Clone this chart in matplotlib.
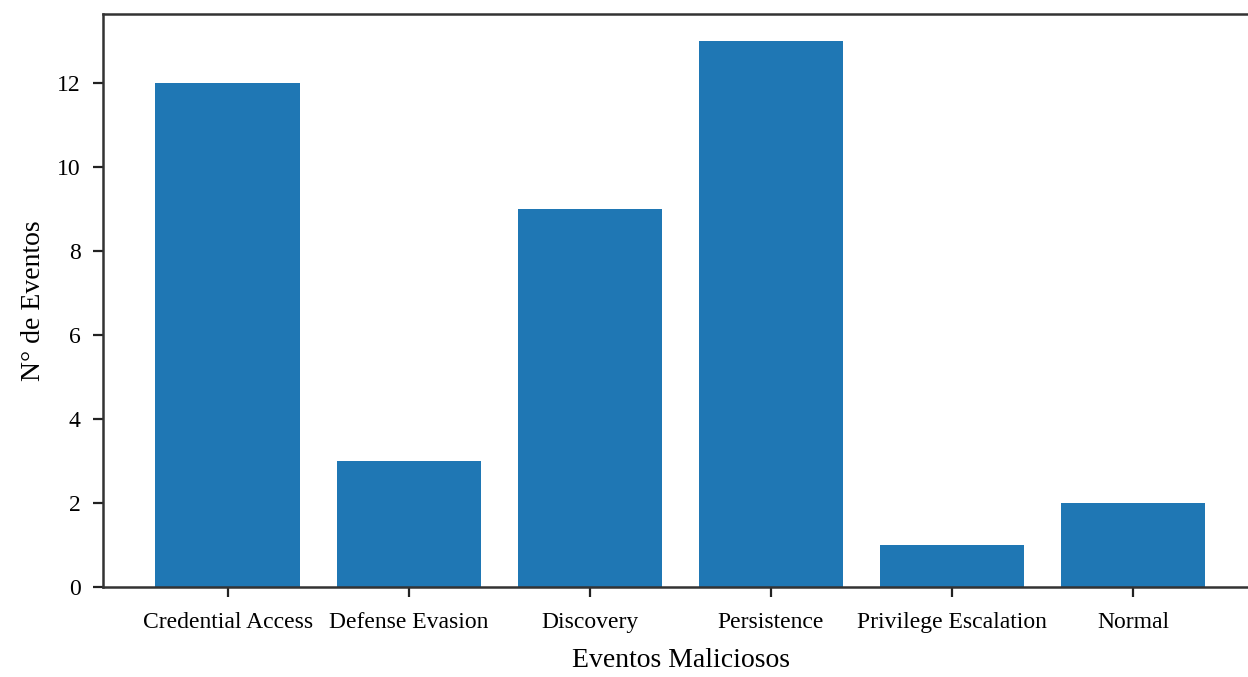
import matplotlib
matplotlib.use('Agg')
import matplotlib.pyplot as plt

# Data
categories = ['Credential Access', 'Defense Evasion', 'Discovery',
              'Persistence', 'Privilege Escalation', 'Normal']
counts = [12, 3, 9, 13, 1, 2]

plt.rcParams['font.family'] = ['Liberation Serif', 'DejaVu Serif']

fig = plt.figure(figsize=(12.48, 6.77), dpi=100)
# axes run past the right edge, as in the cropped original
ax = fig.add_axes([103 / 1248, 90 / 677, 1155 / 1248, 573 / 677])

ax.bar(categories, counts, width=0.8, color='#1f77b4')

ax.set_xlabel('Eventos Maliciosos', fontsize=20, labelpad=11)
ax.set_ylabel('N° de Eventos', fontsize=20, labelpad=8)
ax.tick_params(axis='both', labelsize=17, width=1.6, length=7, color='#222222')
ax.tick_params(axis='x', pad=11)
ax.tick_params(axis='y', pad=9)
ax.set_yticks(range(0, 13, 2))

for s in ax.spines.values():
    s.set_linewidth(1.8)
    s.set_color('#333333')

fig.savefig('out.png', dpi=100)
